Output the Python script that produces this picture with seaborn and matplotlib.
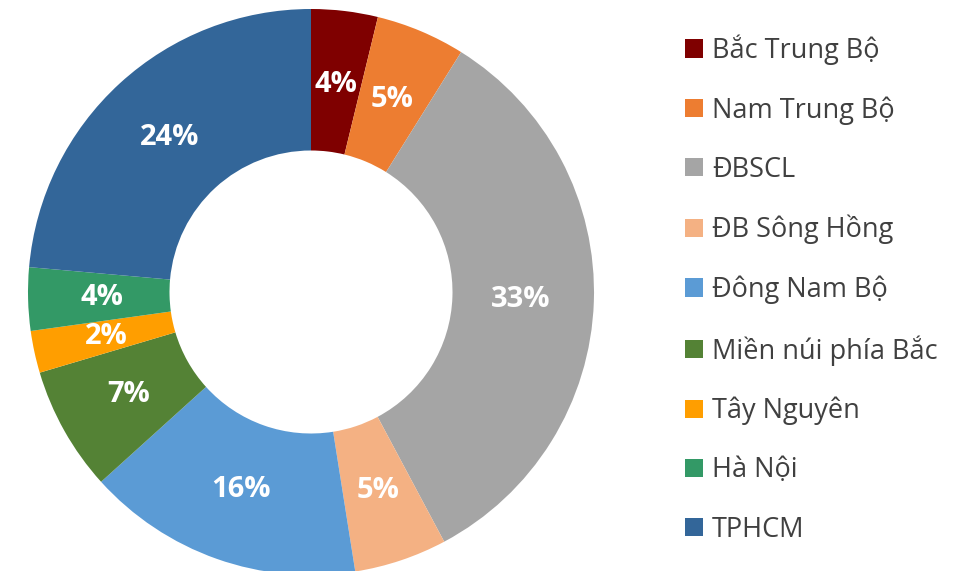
import seaborn as sns
import matplotlib.pyplot as plt

# region names and share of each (percent)
regions = ['Bắc Trung Bộ', 'Nam Trung Bộ', 'ĐBSCL', 'ĐB Sông Hồng', 'Đông Nam Bộ',
           'Miền núi phía Bắc', 'Tây Nguyên', 'Hà Nội', 'TPHCM']
shares = [3.8, 5.1, 33.3, 5.3, 15.8, 7.1, 2.4, 3.6, 23.6]
colors = ['#7F0000', '#ED7D31', '#A5A5A5', '#F4B183', '#5B9BD5',
          '#548235', '#FF9E00', '#339966', '#336699']

sns.set_theme(style='white')
plt.rcParams['font.family'] = ['Open Sans', 'DejaVu Sans']

fig = plt.figure(figsize=(9.74, 5.71), dpi=100)
ax = fig.add_axes([28 / 974, -4 / 571, 566 / 974, 566 / 571])

palette = sns.color_palette(colors)
wedges, texts, autotexts = ax.pie(
    shares, colors=palette, startangle=90, counterclock=False,
    radius=1, wedgeprops=dict(width=0.5, linewidth=0),
    autopct='%.0f%%', pctdistance=0.74,
    textprops=dict(color='white', fontsize=21, fontweight='bold'))
ax.set_xlim(-1, 1)
ax.set_ylim(-1, 1)
ax.set_aspect('equal')
ax.axis('off')

fig.legend(wedges, regions, loc='center left', bbox_to_anchor=(685 / 974, (571 - 289) / 571),
           frameon=False, fontsize=19.5, handlelength=0.66, handleheight=0.66,
           handletextpad=0.33, labelspacing=1.15, borderpad=0, borderaxespad=0,
           labelcolor='#404040')

fig.savefig('out.png', dpi=100)
